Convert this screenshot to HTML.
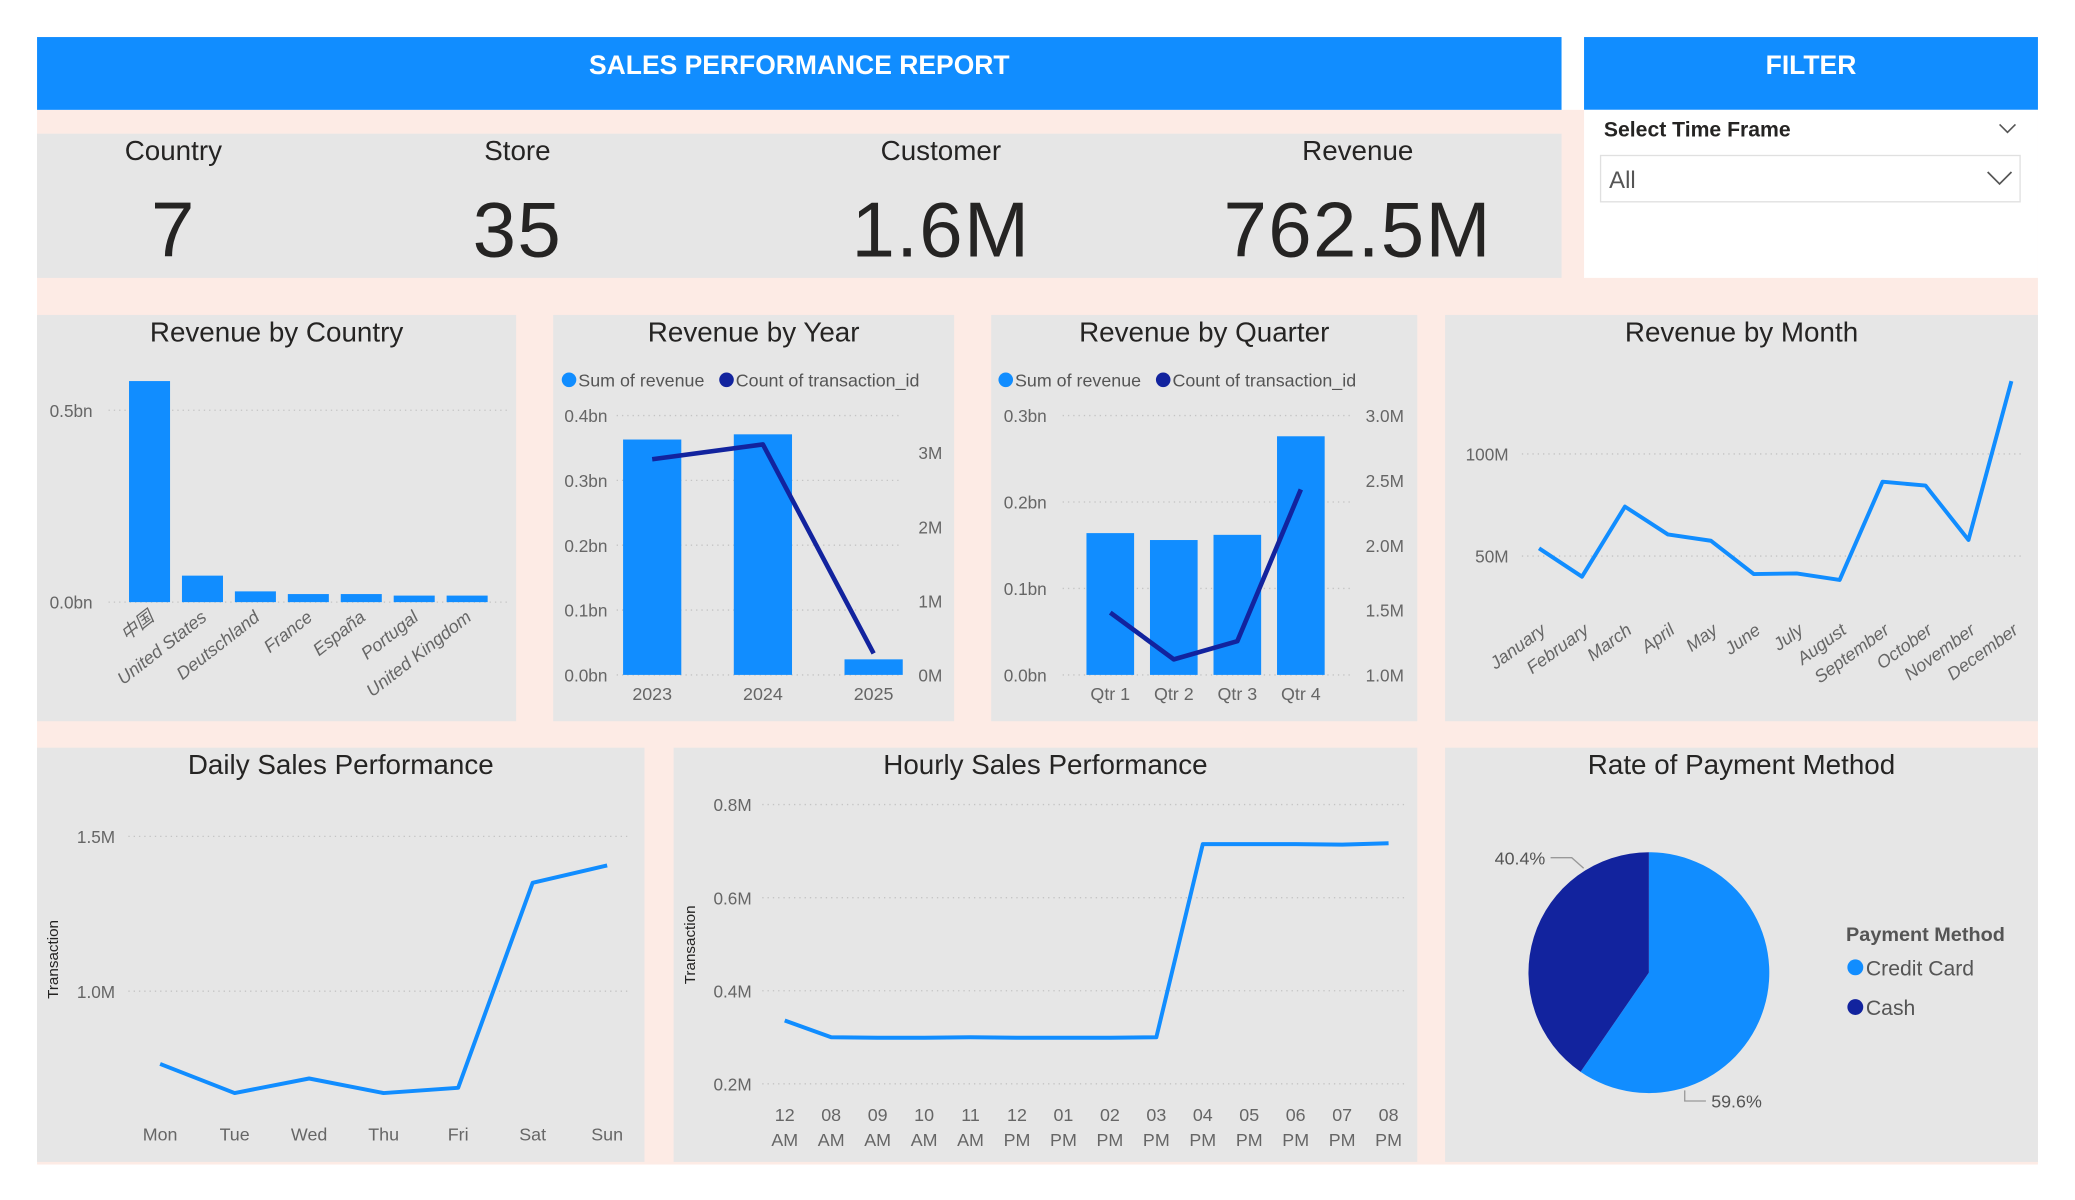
<!DOCTYPE html>
<html><head><meta charset="utf-8">
<style>
html,body{margin:0;padding:0;width:2075px;height:1200px;overflow:hidden;background:#fff;}
#stage{position:absolute;left:0;top:0;width:1568px;height:907px;transform:scale(1.32334);transform-origin:0 0;font-family:"Liberation Sans","Noto Sans CJK SC",sans-serif;}
.abs{position:absolute;}
.pink{background:#fdebe5;}
.gray{background:#e6e6e6;}
.blue{background:#118dff;color:#fff;font-weight:bold;font-size:20px;display:flex;align-items:center;justify-content:center;box-sizing:border-box;padding-bottom:10px;}
.kpi-label{position:absolute;top:103px;width:200px;margin-left:-100px;text-align:center;font-size:21px;color:#252423;}
.kpi-value{position:absolute;top:140px;width:300px;margin-left:-150px;text-align:center;font-size:59px;color:#252423;letter-spacing:1px;}
.ptitle{position:absolute;text-align:center;font-size:21px;color:#252423;}
svg text{font-family:"Liberation Sans","Noto Sans CJK SC",sans-serif;}
</style></head>
<body>
<div id="stage">
  <div class="abs pink" style="left:28px;top:83px;width:1512px;height:797px;"></div>
  <div class="abs blue" style="left:28px;top:28px;width:1152px;height:55px;">SALES PERFORMANCE REPORT</div>
  <div class="abs blue" style="left:1197px;top:28px;width:343px;height:55px;">FILTER</div>
  <div class="abs" style="left:1197px;top:83px;width:343px;height:127px;background:#fff;">
    <div class="abs" style="left:15px;top:7px;font-size:16px;font-weight:bold;color:#252423;">Select Time Frame</div>
    <svg class="abs" style="left:313px;top:9px" width="14" height="10"><polyline points="1,2 7,8 13,2" fill="none" stroke="#555" stroke-width="1.2"/></svg>
    <div class="abs" style="left:12px;top:34px;width:316px;height:34px;border:1px solid #e0e0e0;background:#fff;">
      <div class="abs" style="left:6px;top:8px;font-size:18px;color:#555;">All</div>
      <svg class="abs" style="left:291px;top:11px" width="20" height="12"><polyline points="1,1 10,10 19,1" fill="none" stroke="#555" stroke-width="1.3"/></svg>
    </div>
  </div>
  <div class="abs gray" style="left:28px;top:101px;width:1152px;height:109px;"></div>
  <div class="kpi-label" style="left:131px">Country</div>
  <div class="kpi-value" style="left:131px">7</div>
  <div class="kpi-label" style="left:391px">Store</div>
  <div class="kpi-value" style="left:391px">35</div>
  <div class="kpi-label" style="left:711px">Customer</div>
  <div class="kpi-value" style="left:711px">1.6M</div>
  <div class="kpi-label" style="left:1026px">Revenue</div>
  <div class="kpi-value" style="left:1026px">762.5M</div>

  <div class="abs gray" style="left:28px;top:238px;width:362px;height:307px;"></div>
  <div class="abs gray" style="left:418px;top:238px;width:303px;height:307px;"></div>
  <div class="abs gray" style="left:749px;top:238px;width:322px;height:307px;"></div>
  <div class="abs gray" style="left:1092px;top:238px;width:448px;height:307px;"></div>
  <div class="abs gray" style="left:28px;top:565px;width:459px;height:313px;"></div>
  <div class="abs gray" style="left:509px;top:565px;width:562px;height:313px;"></div>
  <div class="abs gray" style="left:1092px;top:565px;width:448px;height:313px;"></div>

  <div class="ptitle" style="left:28px;top:240px;width:362px;">Revenue by Country</div>
  <div class="ptitle" style="left:418px;top:240px;width:303px;">Revenue by Year</div>
  <div class="ptitle" style="left:749px;top:240px;width:322px;">Revenue by Quarter</div>
  <div class="ptitle" style="left:1092px;top:240px;width:448px;">Revenue by Month</div>
  <div class="ptitle" style="left:28px;top:567px;width:459px;">Daily Sales Performance</div>
  <div class="ptitle" style="left:509px;top:567px;width:562px;">Hourly Sales Performance</div>
  <div class="ptitle" style="left:1092px;top:567px;width:448px;">Rate of Payment Method</div>

  <svg id="charts" class="abs" style="left:0;top:0" width="1568" height="907"></svg>
</div>
<script>
// ---- data ----
const countryCats = ["中国","United States","Deutschland","France","España","Portugal","United Kingdom"];
const countryRevenue = [0.576,0.069,0.028,0.021,0.021,0.017,0.017];
const countryTicks = [0,0.5];
const countryTickLabels = ["0.0bn","0.5bn"];

const yearCats = ["2023","2024","2025"];
const yearRevenue = [0.363,0.371,0.024];
const yearCount = [2.91,3.11,0.29];
const yearLeftTicks = [0,0.1,0.2,0.3,0.4];
const yearLeftLabels = ["0.0bn","0.1bn","0.2bn","0.3bn","0.4bn"];
const yearRightTicks = [0,1,2,3];
const yearRightLabels = ["0M","1M","2M","3M"];

const quarterCats = ["Qtr 1","Qtr 2","Qtr 3","Qtr 4"];
const quarterRevenue = [0.164,0.156,0.162,0.276];
const quarterCount = [1.48,1.12,1.26,2.43];
const quarterLeftTicks = [0,0.1,0.2,0.3];
const quarterLeftLabels = ["0.0bn","0.1bn","0.2bn","0.3bn"];
const quarterRightTicks = [1.0,1.5,2.0,2.5,3.0];
const quarterRightLabels = ["1.0M","1.5M","2.0M","2.5M","3.0M"];

const monthCats = ["January","February","March","April","May","June","July","August","September","October","November","December"];
const monthRevenue = [53.8,39.9,74.2,60.6,57.5,41.2,41.5,38.3,86.4,84.5,57.9,135.6];
const monthTicks = [50,100];
const monthTickLabels = ["50M","100M"];

const dayCats = ["Mon","Tue","Wed","Thu","Fri","Sat","Sun"];
const dayTransactions = [0.765,0.671,0.718,0.671,0.688,1.350,1.406];
const dayTicks = [1.0,1.5];
const dayTickLabels = ["1.0M","1.5M"];

const hourCats = ["12|AM","08|AM","09|AM","10|AM","11|AM","12|PM","01|PM","02|PM","03|PM","04|PM","05|PM","06|PM","07|PM","08|PM"];
const hourTransactions = [0.336,0.300,0.299,0.299,0.300,0.299,0.299,0.299,0.300,0.715,0.715,0.715,0.714,0.717];
const hourTicks = [0.2,0.4,0.6,0.8];
const hourTickLabels = ["0.2M","0.4M","0.6M","0.8M"];

const payCats = ["Credit Card","Cash"];
const payShare = [59.6,40.4];
const payColors = ["#118dff","#12239e"];

// ---- helpers ----
const NS="http://www.w3.org/2000/svg";
const svg=document.getElementById('charts');
function mk(tag,attrs,parent){const e=document.createElementNS(NS,tag);for(const k in attrs)e.setAttribute(k,attrs[k]);(parent||svg).appendChild(e);return e;}
function txt(s,x,y,attrs){const t=mk('text',Object.assign({x:x,y:y,'font-size':13,fill:'#666'},attrs||{}));t.textContent=s;return t;}
function lin(d0,d1,r0,r1){return v=>r0+(v-d0)/(d1-d0)*(r1-r0);}
function band(n,x0,x1){const s=(x1-x0)/n;return i=>x0+s*(i+0.5);}
function grid(y,x0,x1){return mk('line',{x1:x0,x2:x1,y1:y,y2:y,stroke:'#c4c4c4','stroke-width':1,'stroke-dasharray':'1,3'});}
function legend2(x,y){
  const g=mk('g',{});
  
  
  const c1=mk('circle',{cx:x+6,cy:y-5,r:5.5,fill:'#118dff'},g);
  
  
  const t1=txt('Sum of revenue',x+13,y,{fill:'#555','font-size':13.5});g.appendChild(t1);
  
  
  const c2=mk('circle',{cx:x+125,cy:y-5,r:5.5,fill:'#12239e'},g);
  
  
  const t2=txt('Count of transaction_id',x+132,y,{fill:'#555','font-size':13.5});g.appendChild(t2);
  
  
}

// ---- Revenue by Country ----
(function(){
  const y=lin(0,0.5,455,310), x=band(countryCats.length,93,373), bw=31;
  countryTicks.forEach((v,i)=>{grid(y(v),82,385);const t=txt(countryTickLabels[i],70,y(v)+5,{'text-anchor':'end'});
    });
  countryRevenue.forEach((v,i)=>{const r=mk('rect',{x:x(i)-bw/2,y:y(v),width:bw,height:y(0)-y(v),fill:'#118dff'});
    });
  countryCats.forEach((c,i)=>{const t=txt(c,x(i)+4,468,{'text-anchor':'end','font-style':'italic','font-size':13.5,transform:`rotate(-38 ${x(i)+4} 468)`});
    });
})();

// ---- combo chart helper ----
function combo(cats,rev,cnt,lt,ll,rt,rl,cfg){
  const yl=lin(lt[0],lt[lt.length-1],510,314), yr=lin(rt[0],rt[rt.length-1],510,cfg.rTop);
  const x=band(cats.length,cfg.x0,cfg.x1);
  lt.forEach((v,i)=>{grid(yl(v),cfg.gx0,cfg.gx1);const t=txt(ll[i],cfg.lx,yl(v)+5,{'text-anchor':'end'});
    });
  rt.forEach((v,i)=>{const t=txt(rl[i],cfg.rx,yr(v)+5,{'text-anchor':'start'});
    });
  rev.forEach((v,i)=>{const r=mk('rect',{x:x(i)-cfg.bw/2,y:yl(v),width:cfg.bw,height:yl(lt[0])-yl(v),fill:'#118dff'});
    });
  const p=mk('polyline',{points:cnt.map((v,i)=>x(i)+','+yr(v)).join(' '),fill:'none',stroke:'#12239e','stroke-width':3.5,'stroke-linejoin':'round'});
  
  cats.forEach((c,i)=>{const t=txt(c,x(i),529,{'text-anchor':'middle','font-size':13.5});
    });
  legend2(cfg.legX,292);
}
combo(yearCats,yearRevenue,yearCount,yearLeftTicks,yearLeftLabels,yearRightTicks,yearRightLabels,
  {id:'year',x0:451,x1:702,bw:44,rTop:342,gx0:466,gx1:682,lx:459,rx:694,legX:424});
combo(quarterCats,quarterRevenue,quarterCount,quarterLeftTicks,quarterLeftLabels,quarterRightTicks,quarterRightLabels,
  {id:'quarter',x0:815,x1:1007,bw:36,rTop:314,gx0:803,gx1:1022,lx:791,rx:1032,legX:754});

// ---- line chart helper ----
function lineChart(cats,vals,ticks,labels,cfg){
  const y=lin(ticks[0],ticks[ticks.length-1],cfg.y0,cfg.y1);
  const x=i=>cfg.xs+i*cfg.step;
  ticks.forEach((v,i)=>{grid(y(v),cfg.gx0,cfg.gx1);const t=txt(labels[i],cfg.lx,y(v)+5,{'text-anchor':'end'});
    });
  const p=mk('polyline',{points:vals.map((v,i)=>x(i)+','+y(v)).join(' '),fill:'none',stroke:'#118dff','stroke-width':3,'stroke-linejoin':'round'});
  
  cats.forEach((c,i)=>{
    if(cfg.rot){const t=txt(c,x(i)+6,cfg.ly,{'text-anchor':'end','font-style':'italic','font-size':13.5,transform:`rotate(-36 ${x(i)+6} ${cfg.ly})`});
      }
    else{const parts=c.split('|');parts.forEach((s,k)=>{const t=txt(s,x(i),cfg.ly+k*19,{'text-anchor':'middle','font-size':13.5});
      });}
  });
  if(cfg.title){const t=txt('Transaction',0,0,{'text-anchor':'middle',fill:'#252423','font-size':11.5,transform:`translate(${cfg.tx} ${cfg.ty}) rotate(-90)`});
    }
}
lineChart(monthCats,monthRevenue,monthTicks,monthTickLabels,
  {id:'month',y0:420.2,y1:343,xs:1163,step:32.45,gx0:1150,gx1:1530,lx:1140,ly:478,rot:true});
lineChart(dayCats,dayTransactions,dayTicks,dayTickLabels,
  {id:'daily',y0:749,y1:632,xs:121,step:56.3,gx0:97,gx1:475,lx:87,ly:862,title:true,tx:44,ty:725});
lineChart(hourCats,hourTransactions,hourTicks,hourTickLabels,
  {id:'hourly',y0:819,y1:608,xs:593,step:35.1,gx0:576,gx1:1063,lx:568,ly:847,title:true,tx:525,ty:714});

// ---- pie ----
(function(){
  const cx=1246,cy=735,r=91;let a=0;const tot=payShare.reduce((s,v)=>s+v,0);
  payShare.forEach((v,i)=>{
    const a0=a,a1=a+v/tot*2*Math.PI;a=a1;
    const p0=[cx+r*Math.sin(a0),cy-r*Math.cos(a0)],p1=[cx+r*Math.sin(a1),cy-r*Math.cos(a1)];
    const large=(a1-a0)>Math.PI?1:0;
    const path=mk('path',{d:`M${cx},${cy} L${p0[0]},${p0[1]} A${r},${r} 0 ${large} 1 ${p1[0]},${p1[1]} Z`,fill:payColors[i]});
    
    
    // label placed near end of slice (Power BI style)
    const la=a1-(a1-a0)*(i===0?0.24:0.22);
    const ex=cx+(r+2)*Math.sin(la), ey=cy-(r+2)*Math.cos(la);
    const right=(i===0);
    const ly=ey+(Math.cos(la)<0?8:-8), lx=ex+(right?0:-9), hx=lx+(right?16:-16);
    const l=mk('polyline',{points:`${ex},${ey} ${lx},${ly} ${hx},${ly}`,fill:'none',stroke:'#999','stroke-width':1});
    
    const t=txt(v.toFixed(1)+'%',hx+(right?4:-4),ly+5,{'text-anchor':right?'start':'end','font-size':13.5,fill:'#555'});
    
  });
  const lt=txt('Payment Method',1395,711,{'font-weight':'bold',fill:'#555','font-size':15});
  
  payCats.forEach((c,i)=>{
    const dot=mk('circle',{cx:1402,cy:731+i*30,r:6,fill:payColors[i]});
    
    const t=txt(c,1410,737+i*30,{'font-size':16,fill:'#555'});
    
  });
})();
</script>
</body></html>
